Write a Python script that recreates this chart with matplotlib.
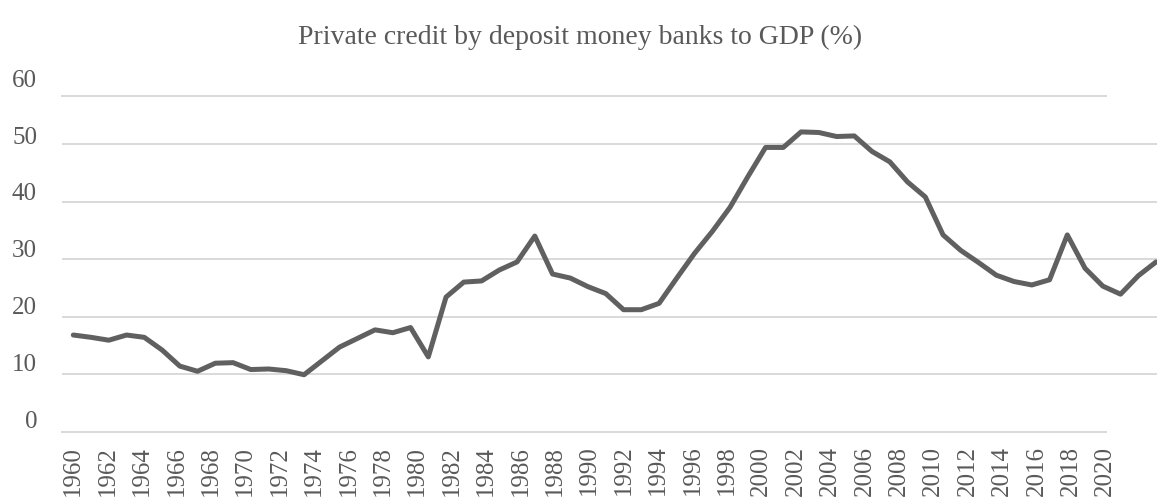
import matplotlib
matplotlib.use('Agg')
from matplotlib import pyplot as plt

# datos
years = list(range(1960, 2022))
credit = [16.8, 16.4, 15.9, 16.8, 16.4, 14.2, 11.4, 10.5, 11.9, 12.0,
          10.8, 10.9, 10.6, 9.9, 12.3, 14.7, 16.2, 17.7, 17.2, 18.1,
          13.0, 23.4, 26.0, 26.2, 28.1, 29.5, 34.0, 27.4, 26.7, 25.2,
          24.0, 21.2, 21.2, 22.3, 26.7, 31.0, 34.8, 39.0, 44.3, 49.4,
          49.4, 52.1, 52.0, 51.3, 51.4, 48.7, 46.9, 43.4, 40.8, 34.2,
          31.5, 29.4, 27.2, 26.1, 25.5, 26.4, 34.2, 28.4, 25.3, 23.9,
          27.1, 29.5]
label_years = list(range(1960, 2021, 2))
y_labels = [0, 10, 20, 30, 40, 50, 60]
title = 'Private credit by deposit money banks to GDP (%)'

W, H = 1157, 498
txt = '#595959'
grid = '#d9d9d9'
plt.rcParams['font.family'] = ['Liberation Serif', 'DejaVu Serif']

fig = plt.figure(figsize=(W / 100, H / 100), dpi=100)

# eje de etiquetas (solo texto)
axl = fig.add_axes([62 / W, (H - 419.3) / H, (1106 - 62) / W, 341 / H])
axl.set_xlim(1960 - 11.3 / 17.2, 1960 - 11.3 / 17.2 + 1044 / 17.2)
axl.set_ylim(0, 60)
axl.set_xticks(label_years)
axl.set_xticklabels([str(y) for y in label_years], rotation=90)
axl.set_yticks(y_labels)
axl.set_yticklabels([str(v) for v in y_labels])
axl.tick_params(axis='x', length=0, pad=19, labelsize=18, colors=txt)
axl.tick_params(axis='y', length=0, pad=18, labelsize=18, colors=txt)
for s in axl.spines.values():
  s.set_visible(False)
axl.patch.set_visible(False)

# eje de datos
ax = fig.add_axes([62 / W, (H - 431.7) / H, (W - 62) / W, 335.7 / H])
x0 = 1960 - 11.3 / 17.75
ax.set_xlim(x0, x0 + 1095 / 17.75)
ax.set_ylim(0, 58.34)
for v in [10, 20, 30, 40, 50]:
  ax.axhline(v, color=grid, lw=1.4, zorder=1)
for v in [0, 58.34]:
  ax.axhline(v, xmin=0, xmax=(1106 - 62) / 1095, color=grid, lw=1.4, zorder=1, clip_on=False)
ax.plot(years, credit, color='#606060', lw=3.6, solid_joinstyle='round',
        solid_capstyle='round', zorder=3)
ax.set_xticks([])
ax.set_yticks([])
for s in ax.spines.values():
  s.set_visible(False)
ax.patch.set_visible(False)

fig.text(0.501, 1 - 37 / H, title, ha='center', va='center', fontsize=20, color=txt)

fig.savefig('out.png', dpi=100)
